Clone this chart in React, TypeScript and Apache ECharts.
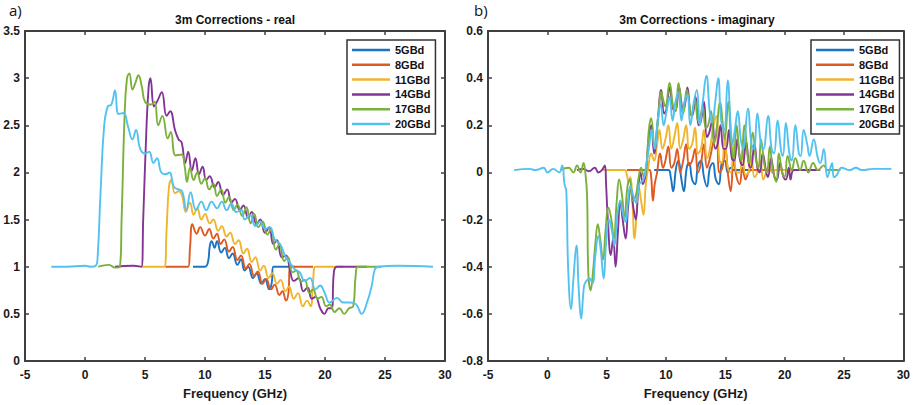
import React, { useEffect, useRef } from "react";
import * as echarts from "echarts";

const seriesNames = ["5GBd", "8GBd", "11GBd", "14GBd", "17GBd", "20GBd"];
const seriesColors = ["#1a74c4", "#df5a22", "#efb52c", "#843594", "#7bb03a", "#52c2f0"];

const xTicks = { min: -5, max: 30, interval: 5 };
const realTicks = { min: 0, max: 3.5, interval: 0.5 };
const imagTicks = { min: -0.8, max: 0.6, interval: 0.2 };

// ---- real part ----
const real5 = [[9.0,1.0],[10.0,1.0],[10.25,1.05],[10.4,1.22],[10.55,1.27],[10.8,1.2],[11.0,1.27],[11.35,1.15],[11.65,1.2],[12.0,1.09],[12.3,1.14],[12.7,1.02],[13.0,1.08],[13.3,0.96],[13.6,1.0],[14.0,0.88],[14.3,0.93],[14.7,0.82],[15.0,0.87],[15.35,0.76],[15.55,0.82],[15.7,1.0],[17.5,1.0]];
const real8 = [[6.7,1.0],[8.6,1.0],[8.75,1.2],[8.95,1.45],[9.3,1.35],[9.6,1.42],[10.0,1.33],[10.35,1.4],[10.7,1.3],[11.0,1.35],[11.3,1.24],[11.6,1.29],[12.0,1.16],[12.3,1.21],[12.7,1.07],[13.0,1.12],[13.4,0.98],[13.7,1.03],[14.1,0.9],[14.4,0.95],[14.8,0.82],[15.1,0.87],[15.5,0.76],[15.8,0.81],[16.2,0.7],[16.45,0.74],[16.75,0.64],[16.95,0.72],[17.1,1.0],[19.0,1.0]];
const real11 = [[4.7,1.0],[6.6,1.0],[6.8,1.4],[7.0,1.85],[7.2,1.92],[7.5,1.78],[7.8,1.8],[8.1,1.75],[8.4,1.58],[8.75,1.68],[9.05,1.55],[9.35,1.62],[9.7,1.5],[10.0,1.56],[10.4,1.46],[10.7,1.5],[11.1,1.38],[11.4,1.43],[11.8,1.32],[12.1,1.36],[12.5,1.24],[12.8,1.28],[13.2,1.14],[13.5,1.19],[13.9,1.05],[14.2,1.1],[14.6,0.96],[14.9,1.01],[15.3,0.88],[15.6,0.93],[16.0,0.82],[16.3,0.86],[16.7,0.74],[17.0,0.79],[17.4,0.66],[17.75,0.72],[18.15,0.58],[18.5,0.64],[18.8,0.58],[19.0,0.83],[19.2,1.0],[21.5,1.0]];
const real14 = [[2.5,1.0],[4.0,1.01],[4.7,1.0],[4.85,1.5],[5.1,2.4],[5.3,2.9],[5.45,3.0],[5.75,2.7],[6.0,2.75],[6.4,2.85],[6.8,2.6],[7.1,2.65],[7.5,2.45],[7.8,2.35],[8.05,2.32],[8.35,2.1],[8.6,2.22],[8.9,2.02],[9.2,2.15],[9.5,1.98],[9.8,2.06],[10.1,1.92],[10.4,1.96],[10.8,1.84],[11.1,1.9],[11.5,1.76],[11.85,1.82],[12.2,1.68],[12.5,1.72],[12.9,1.6],[13.2,1.65],[13.6,1.52],[13.9,1.58],[14.3,1.45],[14.6,1.5],[15.0,1.36],[15.35,1.42],[15.7,1.24],[16.0,1.28],[16.4,1.1],[16.75,1.12],[17.1,0.95],[17.4,0.85],[17.8,0.88],[18.2,0.74],[18.55,0.78],[18.9,0.66],[19.2,0.68],[19.6,0.56],[19.95,0.5],[20.3,0.56],[20.55,0.56],[20.75,0.95],[21.0,1.0],[23.5,1.0]];
const real17 = [[1.1,1.0],[2.0,1.02],[2.5,0.99],[2.9,1.0],[3.05,1.5],[3.3,2.6],[3.5,3.0],[3.7,3.05],[3.95,2.88],[4.2,2.95],[4.45,3.03],[4.75,2.9],[5.0,2.75],[5.5,2.72],[5.8,2.75],[6.1,2.5],[6.45,2.6],[6.9,2.36],[7.15,2.43],[7.55,2.18],[8.05,2.19],[8.3,2.07],[8.5,1.9],[8.75,2.05],[9.05,1.92],[9.35,2.0],[9.7,1.88],[10.0,1.94],[10.35,1.82],[10.7,1.88],[11.0,1.75],[11.35,1.82],[11.7,1.68],[12.0,1.74],[12.4,1.6],[12.7,1.66],[13.1,1.54],[13.45,1.63],[13.8,1.46],[14.1,1.56],[14.45,1.42],[14.8,1.48],[15.2,1.34],[15.5,1.4],[15.9,1.18],[16.2,1.24],[16.6,1.06],[16.9,1.1],[17.3,0.94],[17.6,0.96],[18.0,0.84],[18.3,0.86],[18.7,0.72],[19.0,0.76],[19.4,0.66],[19.7,0.68],[20.1,0.58],[20.4,0.6],[20.8,0.52],[21.2,0.56],[21.6,0.5],[22.0,0.56],[22.35,0.58],[22.55,0.9],[22.75,1.0],[24.7,1.0]];
const real20 = [[-2.8,1.0],[-1.5,1.0],[0.0,1.01],[0.5,1.0],[0.9,1.01],[1.05,1.1],[1.3,1.8],[1.6,2.5],[1.9,2.7],[2.2,2.72],[2.5,2.87],[2.8,2.62],[3.2,2.63],[3.6,2.48],[3.95,2.35],[4.25,2.45],[4.6,2.25],[5.0,2.2],[5.35,2.22],[5.7,2.1],[6.0,2.15],[6.35,2.0],[6.7,1.98],[7.05,2.0],[7.4,1.85],[7.8,1.82],[8.1,1.8],[8.45,1.6],[8.8,1.79],[9.25,1.6],[9.7,1.69],[10.1,1.6],[10.55,1.69],[11.0,1.62],[11.4,1.69],[11.8,1.6],[12.2,1.67],[12.6,1.58],[13.05,1.6],[13.3,1.5],[13.75,1.55],[14.2,1.43],[14.6,1.48],[15.0,1.4],[15.4,1.42],[15.8,1.29],[16.25,1.24],[16.7,1.11],[17.1,1.04],[17.5,0.97],[17.9,0.94],[18.3,0.85],[18.75,0.88],[19.2,0.76],[19.6,0.8],[19.95,0.73],[20.4,0.62],[21.0,0.67],[21.5,0.62],[22.1,0.62],[22.6,0.6],[23.05,0.5],[23.5,0.62],[23.9,0.8],[24.15,0.97],[24.45,1.0],[26.0,1.01],[29.0,1.0]];

// ---- imaginary part ----
const imag5 = [[9.0,0.01],[10.2,0.01],[10.4,-0.02],[10.6,-0.08],[10.85,0.02],[11.05,0.05],[11.3,-0.03],[11.5,-0.08],[11.75,0.02],[11.95,0.04],[12.2,-0.03],[12.45,-0.05],[12.7,0.03],[12.95,0.05],[13.2,-0.02],[13.45,-0.06],[13.7,0.02],[13.95,0.04],[14.2,-0.03],[14.45,-0.05],[14.7,0.04],[14.95,0.05],[15.2,0.0],[15.45,0.02],[15.7,0.01],[17.5,0.01]];
const imag8 = [[6.7,0.01],[8.6,0.01],[8.75,-0.02],[8.9,-0.12],[9.05,-0.05],[9.25,0.0],[9.5,0.08],[9.75,0.02],[9.95,0.05],[10.2,0.11],[10.45,0.02],[10.7,0.04],[10.95,0.1],[11.2,0.0],[11.45,0.05],[11.7,0.12],[11.95,0.03],[12.2,0.05],[12.45,0.1],[12.7,0.0],[12.95,0.04],[13.2,0.12],[13.45,0.02],[13.7,0.06],[14.0,0.13],[14.25,0.16],[14.5,0.0],[14.75,0.02],[15.0,0.1],[15.25,-0.02],[15.45,-0.08],[15.7,0.05],[15.95,-0.02],[16.2,-0.05],[16.45,0.02],[16.7,-0.03],[16.95,0.0],[17.2,0.01],[19.0,0.01]];
const imag11 = [[4.7,0.01],[6.5,0.01],[6.7,-0.01],[6.85,-0.04],[7.0,-0.02],[7.15,-0.1],[7.35,-0.28],[7.55,-0.15],[7.7,-0.06],[7.9,-0.12],[8.1,-0.18],[8.3,-0.05],[8.5,0.02],[8.75,0.08],[9.0,0.05],[9.25,0.12],[9.45,0.18],[9.7,0.1],[9.95,0.14],[10.2,0.2],[10.45,0.1],[10.7,0.15],[10.95,0.21],[11.2,0.1],[11.45,0.14],[11.7,0.2],[11.95,0.1],[12.2,0.12],[12.45,0.19],[12.7,0.08],[12.95,0.1],[13.2,0.18],[13.45,0.06],[13.7,0.1],[14.0,0.2],[14.25,0.24],[14.5,0.05],[14.7,0.04],[14.95,0.16],[15.2,0.02],[15.45,0.0],[15.7,0.12],[15.95,0.0],[16.2,0.0],[16.45,0.1],[16.7,-0.01],[16.95,0.0],[17.2,0.07],[17.45,-0.02],[17.7,0.0],[17.95,0.05],[18.2,-0.03],[18.45,0.0],[18.7,0.03],[18.95,0.0],[19.2,0.01],[21.5,0.01]];
const imag14 = [[2.5,0.01],[3.0,0.015],[3.5,0.005],[4.0,0.02],[4.3,0.0],[4.6,0.01],[4.85,0.03],[4.95,-0.05],[5.1,-0.2],[5.35,-0.35],[5.55,-0.28],[5.75,-0.4],[5.95,-0.25],[6.15,-0.12],[6.35,-0.2],[6.6,-0.28],[6.8,-0.15],[7.0,-0.06],[7.25,-0.15],[7.45,-0.2],[7.65,-0.08],[7.85,0.0],[8.05,-0.05],[8.3,0.0],[8.5,0.12],[8.75,0.2],[9.0,0.08],[9.3,0.22],[9.6,0.35],[9.85,0.25],[10.05,0.27],[10.3,0.36],[10.6,0.27],[10.8,0.26],[11.1,0.36],[11.35,0.28],[11.5,0.27],[11.8,0.36],[12.05,0.25],[12.2,0.24],[12.5,0.32],[12.75,0.2],[12.95,0.22],[13.2,0.3],[13.45,0.15],[13.65,0.17],[13.9,0.22],[14.15,0.1],[14.35,0.12],[14.6,0.2],[14.85,0.1],[15.05,0.1],[15.3,0.18],[15.55,0.06],[15.75,0.05],[16.0,0.14],[16.25,0.05],[16.45,0.03],[16.75,0.13],[17.0,0.03],[17.15,0.02],[17.45,0.12],[17.7,0.02],[17.9,0.0],[18.15,0.08],[18.45,0.0],[18.6,-0.02],[18.85,0.06],[19.15,-0.02],[19.35,-0.03],[19.6,0.04],[19.9,-0.02],[20.1,-0.03],[20.35,0.02],[20.5,-0.03],[20.8,0.01],[23.0,0.01]];
const imag17 = [[1.1,0.01],[1.8,0.02],[2.2,0.0],[2.5,0.03],[2.8,0.0],[3.05,0.04],[3.2,0.0],[3.35,-0.1],[3.45,-0.42],[3.65,-0.5],[3.85,-0.42],[4.05,-0.3],[4.25,-0.22],[4.45,-0.28],[4.7,-0.37],[4.9,-0.25],[5.15,-0.15],[5.4,-0.2],[5.6,-0.28],[5.85,-0.12],[6.05,-0.03],[6.3,-0.1],[6.5,-0.2],[6.75,-0.06],[6.95,-0.03],[7.2,-0.12],[7.45,-0.1],[7.7,-0.02],[7.9,0.02],[8.15,-0.02],[8.35,0.02],[8.55,0.18],[8.75,0.23],[9.05,0.1],[9.3,0.2],[9.6,0.34],[9.8,0.3],[9.95,0.28],[10.3,0.38],[10.6,0.28],[10.8,0.26],[11.05,0.38],[11.35,0.26],[11.45,0.25],[11.75,0.35],[12.05,0.26],[12.15,0.24],[12.45,0.31],[12.7,0.22],[12.9,0.24],[13.1,0.28],[13.35,0.19],[13.55,0.2],[13.8,0.26],[14.05,0.12],[14.3,0.2],[14.55,0.3],[14.8,0.2],[14.95,0.14],[15.25,0.3],[15.5,0.12],[15.7,0.06],[15.95,0.2],[16.2,0.07],[16.35,0.05],[16.6,0.2],[16.9,0.06],[17.0,0.04],[17.3,0.17],[17.6,0.05],[17.8,0.02],[18.0,0.14],[18.3,0.03],[18.5,0.0],[18.75,0.11],[19.0,0.01],[19.3,-0.04],[19.5,0.08],[19.8,0.0],[20.0,-0.02],[20.25,0.07],[20.6,0.01],[20.9,0.06],[21.3,0.01],[21.6,0.05],[22.0,0.0],[22.4,0.04],[22.8,0.01],[23.3,0.03],[23.6,0.01],[24.7,0.01]];
const imag20 = [[-2.8,0.01],[-1.5,0.015],[-1.0,0.01],[-0.3,0.02],[0.0,0.0],[0.5,0.015],[1.0,0.0],[1.25,0.03],[1.45,-0.05],[1.6,-0.08],[1.75,-0.4],[2.0,-0.58],[2.2,-0.45],[2.45,-0.31],[2.65,-0.5],[2.85,-0.62],[3.1,-0.48],[3.3,-0.46],[3.55,-0.45],[3.8,-0.47],[4.05,-0.35],[4.3,-0.27],[4.5,-0.33],[4.75,-0.45],[4.95,-0.3],[5.2,-0.2],[5.45,-0.25],[5.65,-0.31],[5.9,-0.18],[6.15,-0.12],[6.35,-0.17],[6.6,-0.21],[6.8,-0.12],[7.0,-0.06],[7.25,-0.1],[7.5,-0.13],[7.75,-0.05],[8.1,-0.03],[8.35,0.04],[8.55,0.1],[8.8,0.18],[9.05,0.1],[9.3,0.22],[9.55,0.29],[9.8,0.2],[10.05,0.26],[10.3,0.32],[10.55,0.22],[10.8,0.3],[11.05,0.34],[11.3,0.22],[11.55,0.3],[11.8,0.33],[12.05,0.2],[12.35,0.3],[12.6,0.35],[12.85,0.2],[13.1,0.3],[13.4,0.41],[13.7,0.25],[13.9,0.21],[14.15,0.3],[14.4,0.4],[14.65,0.22],[14.9,0.18],[15.2,0.39],[15.45,0.2],[15.6,0.12],[15.8,0.18],[16.05,0.26],[16.3,0.14],[16.5,0.1],[16.9,0.27],[17.2,0.12],[17.4,0.1],[17.7,0.25],[18.0,0.12],[18.2,0.1],[18.6,0.24],[18.9,0.1],[19.1,0.08],[19.4,0.22],[19.7,0.09],[19.85,0.07],[20.1,0.21],[20.4,0.08],[20.6,0.05],[20.9,0.2],[21.2,0.08],[21.35,0.07],[21.6,0.18],[21.9,0.12],[22.1,0.07],[22.45,0.14],[22.8,0.06],[23.0,0.04],[23.3,0.1],[23.6,-0.02],[23.85,0.02],[24.0,0.04],[24.15,-0.02],[24.4,-0.01],[24.8,0.02],[25.5,0.01],[26.0,0.02],[26.5,0.01],[27.5,0.015],[29.0,0.015]];

const realSeries = [real5, real8, real11, real14, real17, real20];
const imagSeries = [imag5, imag8, imag11, imag14, imag17, imag20];

const FONT = "Liberation Sans, Arial, sans-serif";
const AXIS_COLOR = "#404040";

const fmt = (v: number) => String(Math.round(v * 10) / 10);

function axisPair(gridIndex: number, ticks: any, isX: boolean, withLabels: boolean) {
  return {
    type: "value",
    gridIndex,
    position: isX ? (withLabels ? "bottom" : "top") : withLabels ? "left" : "right",
    min: ticks.min,
    max: ticks.max,
    interval: ticks.interval,
    splitLine: { show: false },
    axisLine: { show: true, onZero: false, lineStyle: { color: AXIS_COLOR, width: 2 } },
    axisTick: { show: true, inside: true, length: 4, lineStyle: { color: AXIS_COLOR, width: 1.5 } },
    axisLabel: {
      show: withLabels,
      formatter: fmt,
      color: "#1a1a1a",
      fontSize: 12,
      fontWeight: "bold",
      fontFamily: FONT,
      margin: isX ? 8 : 5,
    },
    ...(isX && withLabels
      ? {
          name: "Frequency (GHz)",
          nameLocation: "middle",
          nameGap: 26,
          nameTextStyle: { fontSize: 13, fontWeight: "bold", color: "#1a1a1a", fontFamily: FONT },
        }
      : {}),
  };
}

function legendFor(left: number) {
  return {
    orient: "vertical",
    left,
    top: 40,
    data: seriesNames,
    icon: "rect",
    itemWidth: 38,
    itemHeight: 2.5,
    itemGap: 2.8,
    padding: [4, 5, 4, 5],
    borderColor: "#333",
    borderWidth: 1.5,
    backgroundColor: "#fff",
    selectedMode: false,
    textStyle: { fontSize: 11, lineHeight: 12, fontWeight: "bold", color: "#111", fontFamily: FONT },
  };
}

export default function App() {
  const ref = useRef<HTMLDivElement>(null);
  useEffect(() => {
    document.body.style.margin = "0";
    if (!ref.current) return;
    const chart = echarts.init(ref.current, undefined, { renderer: "svg" });
    const series: any[] = [];
    seriesNames.forEach((name, i) => {
      series.push({
        name,
        type: "line",
        xAxisIndex: 0,
        yAxisIndex: 0,
        data: realSeries[i],
        showSymbol: false,
        symbol: "none",
        smooth: 0.45,
        color: seriesColors[i],
        lineStyle: { width: 1.9, color: seriesColors[i] },
      });
      series.push({
        name,
        type: "line",
        xAxisIndex: 2,
        yAxisIndex: 2,
        data: imagSeries[i],
        showSymbol: false,
        symbol: "none",
        smooth: 0.45,
        color: seriesColors[i],
        lineStyle: { width: 1.9, color: seriesColors[i] },
      });
    });
    chart.setOption({
      animation: false,
      backgroundColor: "#fff",
      textStyle: { fontFamily: FONT },
      title: [
        {
          text: "3m Corrections - real",
          left: 235,
          textAlign: "center",
          top: 14,
          padding: 0,
          textStyle: { fontSize: 12, fontWeight: "bold", color: "#111", fontFamily: FONT },
        },
        {
          text: "3m Corrections - imaginary",
          left: 697,
          textAlign: "center",
          top: 14,
          padding: 0,
          textStyle: { fontSize: 12, fontWeight: "bold", color: "#111", fontFamily: FONT },
        },
      ],
      grid: [
        { left: 25, right: 468, top: 31, bottom: 43 },
        { left: 488, right: 6, top: 31, bottom: 43 },
      ],
      xAxis: [
        axisPair(0, xTicks, true, true),
        axisPair(0, xTicks, true, false),
        axisPair(1, xTicks, true, true),
        axisPair(1, xTicks, true, false),
      ],
      yAxis: [
        axisPair(0, realTicks, false, true),
        axisPair(0, realTicks, false, false),
        axisPair(1, imagTicks, false, true),
        axisPair(1, imagTicks, false, false),
      ],
      legend: [legendFor(347), legendFor(811)],
      graphic: [
        { type: "text", left: 9, top: 2, style: { text: "a)", fontSize: 15, fill: "#111", fontFamily: "Open Sans, sans-serif" } },
        { type: "text", left: 474, top: 2, style: { text: "b)", fontSize: 15, fill: "#111", fontFamily: "Open Sans, sans-serif" } },
      ],
      series,
    });
    return () => chart.dispose();
  }, []);
  return <div ref={ref} style={{ width: 913, height: 405 }} />;
}
